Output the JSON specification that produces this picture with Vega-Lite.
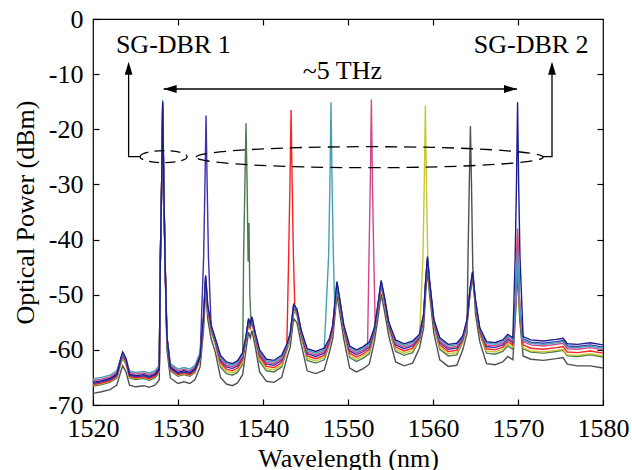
{
"$schema": "https://vega.github.io/schema/vega-lite/v6.json",
"width": 510, "height": 386,
"autosize": {"type": "none"},
"padding": {"left": 93, "top": 19, "right": 29, "bottom": 65},
"background": "white",
"config": {
 "view": {"stroke": "black", "strokeWidth": 1.2},
 "font": "Liberation Serif",
 "axis": {"labelFont": "Liberation Serif", "labelFontSize": 26, "labelColor": "black", "titleFont": "Liberation Serif", "titleFontSize": 26, "titleFontWeight": "normal", "titleColor": "black", "tickColor": "black", "domainColor": "black", "domainWidth": 1.2, "tickWidth": 1.2, "grid": false, "labelFlush": false, "labelOverlap": false}
},
"resolve": {"axis": {"x": "independent", "y": "independent"}},
"layer": [
{
 "data": {"values": [
{"s":"g","w":1520.0,"p":-67.9},{"s":"g","w":1521.0,"p":-67.6},{"s":"g","w":1522.0,"p":-67.2},{"s":"g","w":1522.8,"p":-66.4},{"s":"g","w":1523.3,"p":-63.8},{"s":"g","w":1523.5,"p":-62.9},{"s":"g","w":1523.7,"p":-63.5},{"s":"g","w":1523.9,"p":-64.1},{"s":"g","w":1524.3,"p":-66.4},{"s":"g","w":1525.0,"p":-66.7},{"s":"g","w":1526.0,"p":-66.5},{"s":"g","w":1526.6,"p":-66.8},{"s":"g","w":1527.3,"p":-66.4},{"s":"g","w":1527.8,"p":-65.4},{"s":"g","w":1527.92,"p":-45},{"s":"g","w":1528.07,"p":-31},{"s":"g","w":1528.2,"p":-16.5},{"s":"g","w":1528.33,"p":-31},{"s":"g","w":1528.48,"p":-45},{"s":"g","w":1528.7,"p":-60.0},{"s":"g","w":1529.1,"p":-65.1},{"s":"g","w":1530.0,"p":-66.1},{"s":"g","w":1530.7,"p":-65.8},{"s":"g","w":1531.4,"p":-66.1},{"s":"g","w":1532.0,"p":-65.4},{"s":"g","w":1532.6,"p":-63.1},{"s":"g","w":1533.0,"p":-56.5},{"s":"g","w":1533.25,"p":-49.0},{"s":"g","w":1533.5,"p":-54.5},{"s":"g","w":1533.9,"p":-58.0},{"s":"g","w":1534.4,"p":-60.5},{"s":"g","w":1535.0,"p":-65.0},{"s":"g","w":1535.7,"p":-66.2},{"s":"g","w":1536.4,"p":-66.5},{"s":"g","w":1537.0,"p":-66.0},{"s":"g","w":1537.6,"p":-64.5},{"s":"g","w":1538.0,"p":-60.0},{"s":"g","w":1538.3,"p":-56.8},{"s":"g","w":1538.5,"p":-57.8},{"s":"g","w":1538.7,"p":-56.5},{"s":"g","w":1539.1,"p":-59.5},{"s":"g","w":1539.6,"p":-64.0},{"s":"g","w":1540.4,"p":-65.7},{"s":"g","w":1541.3,"p":-65.9},{"s":"g","w":1542.2,"p":-65.0},{"s":"g","w":1542.8,"p":-61.5},{"s":"g","w":1543.2,"p":-59.5},{"s":"g","w":1543.6,"p":-54.3},{"s":"g","w":1544.0,"p":-55.1},{"s":"g","w":1544.5,"p":-59.0},{"s":"g","w":1545.2,"p":-63.8},{"s":"g","w":1546.2,"p":-64.3},{"s":"g","w":1547.2,"p":-63.7},{"s":"g","w":1547.8,"p":-60.5},{"s":"g","w":1548.2,"p":-58.0},{"s":"g","w":1548.7,"p":-50.1},{"s":"g","w":1549.0,"p":-53.0},{"s":"g","w":1549.5,"p":-58.0},{"s":"g","w":1550.2,"p":-63.3},{"s":"g","w":1551.0,"p":-64.0},{"s":"g","w":1551.8,"p":-63.4},{"s":"g","w":1552.5,"p":-62.6},{"s":"g","w":1553.1,"p":-58.5},{"s":"g","w":1553.5,"p":-54.5},{"s":"g","w":1553.9,"p":-49.9},{"s":"g","w":1554.3,"p":-53.0},{"s":"g","w":1554.8,"p":-57.5},{"s":"g","w":1555.6,"p":-62.2},{"s":"g","w":1556.6,"p":-62.9},{"s":"g","w":1557.6,"p":-62.4},{"s":"g","w":1558.4,"p":-59.7},{"s":"g","w":1558.9,"p":-56.0},{"s":"g","w":1559.15,"p":-49.5},{"s":"g","w":1559.35,"p":-45.6},{"s":"g","w":1559.6,"p":-50.0},{"s":"g","w":1560.1,"p":-57.0},{"s":"g","w":1560.8,"p":-61.8},{"s":"g","w":1561.8,"p":-63.0},{"s":"g","w":1562.8,"p":-62.8},{"s":"g","w":1563.5,"p":-60.0},{"s":"g","w":1564.0,"p":-57.0},{"s":"g","w":1564.12,"p":-43},{"s":"g","w":1564.27,"p":-30},{"s":"g","w":1564.4,"p":-19.4},{"s":"g","w":1564.53,"p":-30},{"s":"g","w":1564.68,"p":-45},{"s":"g","w":1565.0,"p":-53.5},{"s":"g","w":1565.5,"p":-58.5},{"s":"g","w":1566.3,"p":-62.5},{"s":"g","w":1567.3,"p":-62.7},{"s":"g","w":1568.2,"p":-62.2},{"s":"g","w":1568.8,"p":-61.2},{"s":"g","w":1569.4,"p":-61.8},{"s":"g","w":1569.75,"p":-52.5},{"s":"g","w":1569.95,"p":-46},{"s":"g","w":1570.2,"p":-54.5},{"s":"g","w":1570.6,"p":-61.1},{"s":"g","w":1571.5,"p":-61.7},{"s":"g","w":1573.0,"p":-61.9},{"s":"g","w":1574.5,"p":-61.6},{"s":"g","w":1575.3,"p":-61.4},{"s":"g","w":1575.8,"p":-62.6},{"s":"g","w":1577.0,"p":-62.9},{"s":"g","w":1578.5,"p":-62.9},{"s":"g","w":1580.0,"p":-63.3},
{"s":"e","w":1520.0,"p":-66.6},{"s":"e","w":1521.0,"p":-66.3},{"s":"e","w":1522.0,"p":-65.9},{"s":"e","w":1522.8,"p":-65.1},{"s":"e","w":1523.3,"p":-62.4},{"s":"e","w":1523.5,"p":-61.5},{"s":"e","w":1523.7,"p":-62.1},{"s":"e","w":1523.9,"p":-62.7},{"s":"e","w":1524.3,"p":-65.1},{"s":"e","w":1525.0,"p":-65.4},{"s":"e","w":1526.0,"p":-65.2},{"s":"e","w":1526.6,"p":-65.5},{"s":"e","w":1527.3,"p":-65.1},{"s":"e","w":1527.8,"p":-64.1},{"s":"e","w":1527.92,"p":-44},{"s":"e","w":1528.07,"p":-30.5},{"s":"e","w":1528.2,"p":-16.2},{"s":"e","w":1528.33,"p":-30.5},{"s":"e","w":1528.48,"p":-44},{"s":"e","w":1528.7,"p":-58.6},{"s":"e","w":1529.1,"p":-63.8},{"s":"e","w":1530.0,"p":-64.8},{"s":"e","w":1530.7,"p":-64.5},{"s":"e","w":1531.4,"p":-64.8},{"s":"e","w":1532.0,"p":-64.1},{"s":"e","w":1532.6,"p":-61.8},{"s":"e","w":1533.0,"p":-55.1},{"s":"e","w":1533.25,"p":-47.6},{"s":"e","w":1533.5,"p":-53.1},{"s":"e","w":1533.9,"p":-56.6},{"s":"e","w":1534.4,"p":-59.1},{"s":"e","w":1535.0,"p":-63.1},{"s":"e","w":1535.7,"p":-64.3},{"s":"e","w":1536.4,"p":-64.6},{"s":"e","w":1537.0,"p":-64.1},{"s":"e","w":1537.6,"p":-62.6},{"s":"e","w":1537.72,"p":-43},{"s":"e","w":1537.87,"p":-30},{"s":"e","w":1538.0,"p":-18.9},{"s":"e","w":1538.13,"p":-30},{"s":"e","w":1538.25,"p":-44},{"s":"e","w":1538.35,"p":-37},{"s":"e","w":1538.45,"p":-50},{"s":"e","w":1538.6,"p":-55.5},{"s":"e","w":1538.75,"p":-55.1},{"s":"e","w":1539.1,"p":-58.1},{"s":"e","w":1539.6,"p":-62.1},{"s":"e","w":1540.4,"p":-63.8},{"s":"e","w":1541.3,"p":-64.0},{"s":"e","w":1542.2,"p":-63.1},{"s":"e","w":1542.8,"p":-60.1},{"s":"e","w":1543.2,"p":-58.1},{"s":"e","w":1543.6,"p":-52.9},{"s":"e","w":1544.0,"p":-53.7},{"s":"e","w":1544.5,"p":-57.6},{"s":"e","w":1545.2,"p":-61.9},{"s":"e","w":1546.2,"p":-62.4},{"s":"e","w":1547.2,"p":-61.8},{"s":"e","w":1547.8,"p":-59.1},{"s":"e","w":1548.2,"p":-56.6},{"s":"e","w":1548.7,"p":-48.7},{"s":"e","w":1549.0,"p":-51.6},{"s":"e","w":1549.5,"p":-56.6},{"s":"e","w":1550.2,"p":-61.4},{"s":"e","w":1551.0,"p":-62.1},{"s":"e","w":1551.8,"p":-61.5},{"s":"e","w":1552.5,"p":-60.7},{"s":"e","w":1553.1,"p":-57.1},{"s":"e","w":1553.5,"p":-53.1},{"s":"e","w":1553.9,"p":-48.5},{"s":"e","w":1554.3,"p":-51.6},{"s":"e","w":1554.8,"p":-56.1},{"s":"e","w":1555.6,"p":-60.3},{"s":"e","w":1556.6,"p":-61.0},{"s":"e","w":1557.6,"p":-60.5},{"s":"e","w":1558.4,"p":-58.3},{"s":"e","w":1558.9,"p":-54.6},{"s":"e","w":1559.15,"p":-48.1},{"s":"e","w":1559.35,"p":-45.0},{"s":"e","w":1559.6,"p":-48.6},{"s":"e","w":1560.1,"p":-55.6},{"s":"e","w":1560.8,"p":-59.9},{"s":"e","w":1561.8,"p":-61.1},{"s":"e","w":1562.8,"p":-60.9},{"s":"e","w":1563.5,"p":-58.6},{"s":"e","w":1564.0,"p":-55.6},{"s":"e","w":1564.35,"p":-50.1},{"s":"e","w":1564.65,"p":-47.0},{"s":"e","w":1565.0,"p":-52.1},{"s":"e","w":1565.5,"p":-57.1},{"s":"e","w":1566.3,"p":-60.6},{"s":"e","w":1567.3,"p":-60.8},{"s":"e","w":1568.2,"p":-60.3},{"s":"e","w":1568.8,"p":-59.3},{"s":"e","w":1569.4,"p":-59.9},{"s":"e","w":1569.75,"p":-51.1},{"s":"e","w":1569.95,"p":-45},{"s":"e","w":1570.2,"p":-53.1},{"s":"e","w":1570.6,"p":-59.8},{"s":"e","w":1571.5,"p":-60.4},{"s":"e","w":1573.0,"p":-60.6},{"s":"e","w":1574.5,"p":-60.3},{"s":"e","w":1575.3,"p":-60.1},{"s":"e","w":1575.8,"p":-61.1},{"s":"e","w":1577.0,"p":-61.2},{"s":"e","w":1578.5,"p":-60.9},{"s":"e","w":1580.0,"p":-61.3},
{"s":"y","w":1520.0,"p":-66.4},{"s":"y","w":1521.0,"p":-66.1},{"s":"y","w":1522.0,"p":-65.7},{"s":"y","w":1522.8,"p":-64.9},{"s":"y","w":1523.3,"p":-62.2},{"s":"y","w":1523.5,"p":-61.3},{"s":"y","w":1523.7,"p":-61.9},{"s":"y","w":1523.9,"p":-62.5},{"s":"y","w":1524.3,"p":-64.9},{"s":"y","w":1525.0,"p":-65.2},{"s":"y","w":1526.0,"p":-65.0},{"s":"y","w":1526.6,"p":-65.3},{"s":"y","w":1527.3,"p":-64.9},{"s":"y","w":1527.8,"p":-63.9},{"s":"y","w":1527.92,"p":-44},{"s":"y","w":1528.07,"p":-30.5},{"s":"y","w":1528.2,"p":-16.0},{"s":"y","w":1528.33,"p":-30.5},{"s":"y","w":1528.48,"p":-44},{"s":"y","w":1528.7,"p":-58.4},{"s":"y","w":1529.1,"p":-63.6},{"s":"y","w":1530.0,"p":-64.6},{"s":"y","w":1530.7,"p":-64.3},{"s":"y","w":1531.4,"p":-64.6},{"s":"y","w":1532.0,"p":-63.9},{"s":"y","w":1532.6,"p":-61.6},{"s":"y","w":1533.0,"p":-54.9},{"s":"y","w":1533.25,"p":-47.2},{"s":"y","w":1533.5,"p":-52.9},{"s":"y","w":1533.9,"p":-56.4},{"s":"y","w":1534.4,"p":-58.9},{"s":"y","w":1535.0,"p":-62.7},{"s":"y","w":1535.7,"p":-63.9},{"s":"y","w":1536.4,"p":-64.2},{"s":"y","w":1537.0,"p":-63.7},{"s":"y","w":1537.6,"p":-62.2},{"s":"y","w":1538.0,"p":-58.4},{"s":"y","w":1538.3,"p":-55.2},{"s":"y","w":1538.5,"p":-56.2},{"s":"y","w":1538.7,"p":-54.9},{"s":"y","w":1539.1,"p":-57.9},{"s":"y","w":1539.6,"p":-61.7},{"s":"y","w":1540.4,"p":-63.4},{"s":"y","w":1541.3,"p":-63.6},{"s":"y","w":1542.2,"p":-62.7},{"s":"y","w":1542.8,"p":-59.9},{"s":"y","w":1543.2,"p":-57.9},{"s":"y","w":1543.6,"p":-52.7},{"s":"y","w":1544.0,"p":-53.5},{"s":"y","w":1544.5,"p":-57.4},{"s":"y","w":1545.2,"p":-61.5},{"s":"y","w":1546.2,"p":-62.0},{"s":"y","w":1547.2,"p":-61.4},{"s":"y","w":1547.8,"p":-58.9},{"s":"y","w":1548.2,"p":-56.4},{"s":"y","w":1548.7,"p":-48.5},{"s":"y","w":1549.0,"p":-51.4},{"s":"y","w":1549.5,"p":-56.4},{"s":"y","w":1550.2,"p":-61.0},{"s":"y","w":1551.0,"p":-61.7},{"s":"y","w":1551.8,"p":-61.1},{"s":"y","w":1552.5,"p":-60.3},{"s":"y","w":1553.1,"p":-56.9},{"s":"y","w":1553.5,"p":-52.9},{"s":"y","w":1553.9,"p":-48.3},{"s":"y","w":1554.3,"p":-51.4},{"s":"y","w":1554.8,"p":-55.9},{"s":"y","w":1555.6,"p":-59.9},{"s":"y","w":1556.6,"p":-60.6},{"s":"y","w":1557.6,"p":-60.1},{"s":"y","w":1558.4,"p":-58.1},{"s":"y","w":1558.82,"p":-43},{"s":"y","w":1558.97,"p":-30},{"s":"y","w":1559.1,"p":-15.7},{"s":"y","w":1559.23,"p":-30},{"s":"y","w":1559.38,"p":-43},{"s":"y","w":1559.6,"p":-48.4},{"s":"y","w":1560.1,"p":-55.4},{"s":"y","w":1560.8,"p":-59.5},{"s":"y","w":1561.8,"p":-60.7},{"s":"y","w":1562.8,"p":-60.5},{"s":"y","w":1563.5,"p":-58.4},{"s":"y","w":1564.0,"p":-55.4},{"s":"y","w":1564.35,"p":-49.9},{"s":"y","w":1564.65,"p":-46.7},{"s":"y","w":1565.0,"p":-51.9},{"s":"y","w":1565.5,"p":-56.9},{"s":"y","w":1566.3,"p":-60.2},{"s":"y","w":1567.3,"p":-60.4},{"s":"y","w":1568.2,"p":-59.9},{"s":"y","w":1568.8,"p":-58.9},{"s":"y","w":1569.4,"p":-59.5},{"s":"y","w":1569.75,"p":-50.9},{"s":"y","w":1569.95,"p":-40},{"s":"y","w":1570.2,"p":-52.9},{"s":"y","w":1570.6,"p":-59.6},{"s":"y","w":1571.5,"p":-60.2},{"s":"y","w":1573.0,"p":-60.4},{"s":"y","w":1574.5,"p":-60.1},{"s":"y","w":1575.3,"p":-59.9},{"s":"y","w":1575.8,"p":-60.9},{"s":"y","w":1577.0,"p":-61.0},{"s":"y","w":1578.5,"p":-60.7},{"s":"y","w":1580.0,"p":-61.1},
{"s":"r","w":1520.0,"p":-66.3},{"s":"r","w":1521.0,"p":-66.0},{"s":"r","w":1522.0,"p":-65.6},{"s":"r","w":1522.8,"p":-64.8},{"s":"r","w":1523.3,"p":-62.0},{"s":"r","w":1523.5,"p":-61.1},{"s":"r","w":1523.7,"p":-61.7},{"s":"r","w":1523.9,"p":-62.3},{"s":"r","w":1524.3,"p":-64.8},{"s":"r","w":1525.0,"p":-65.1},{"s":"r","w":1526.0,"p":-64.9},{"s":"r","w":1526.6,"p":-65.2},{"s":"r","w":1527.3,"p":-64.8},{"s":"r","w":1527.8,"p":-63.8},{"s":"r","w":1527.92,"p":-44},{"s":"r","w":1528.07,"p":-30.5},{"s":"r","w":1528.2,"p":-15.8},{"s":"r","w":1528.33,"p":-30.5},{"s":"r","w":1528.48,"p":-44},{"s":"r","w":1528.7,"p":-58.2},{"s":"r","w":1529.1,"p":-63.5},{"s":"r","w":1530.0,"p":-64.5},{"s":"r","w":1530.7,"p":-64.2},{"s":"r","w":1531.4,"p":-64.5},{"s":"r","w":1532.0,"p":-63.8},{"s":"r","w":1532.6,"p":-61.5},{"s":"r","w":1533.0,"p":-54.7},{"s":"r","w":1533.25,"p":-47.2},{"s":"r","w":1533.5,"p":-52.7},{"s":"r","w":1533.9,"p":-56.2},{"s":"r","w":1534.4,"p":-58.7},{"s":"r","w":1535.0,"p":-62.3},{"s":"r","w":1535.7,"p":-63.5},{"s":"r","w":1536.4,"p":-63.8},{"s":"r","w":1537.0,"p":-63.3},{"s":"r","w":1537.6,"p":-61.8},{"s":"r","w":1538.0,"p":-58.2},{"s":"r","w":1538.3,"p":-55.0},{"s":"r","w":1538.5,"p":-56.0},{"s":"r","w":1538.7,"p":-54.7},{"s":"r","w":1539.1,"p":-57.7},{"s":"r","w":1539.6,"p":-61.3},{"s":"r","w":1540.4,"p":-63.0},{"s":"r","w":1541.3,"p":-63.2},{"s":"r","w":1542.2,"p":-62.3},{"s":"r","w":1542.8,"p":-59.7},{"s":"r","w":1543.02,"p":-43},{"s":"r","w":1543.17,"p":-30},{"s":"r","w":1543.3,"p":-16.5},{"s":"r","w":1543.43,"p":-30},{"s":"r","w":1543.58,"p":-43},{"s":"r","w":1543.75,"p":-52.6},{"s":"r","w":1544.0,"p":-53.3},{"s":"r","w":1544.5,"p":-57.2},{"s":"r","w":1545.2,"p":-61.1},{"s":"r","w":1546.2,"p":-61.6},{"s":"r","w":1547.2,"p":-61.0},{"s":"r","w":1547.8,"p":-58.7},{"s":"r","w":1548.2,"p":-56.2},{"s":"r","w":1548.7,"p":-48.3},{"s":"r","w":1549.0,"p":-51.2},{"s":"r","w":1549.5,"p":-56.2},{"s":"r","w":1550.2,"p":-60.6},{"s":"r","w":1551.0,"p":-61.3},{"s":"r","w":1551.8,"p":-60.7},{"s":"r","w":1552.5,"p":-59.9},{"s":"r","w":1553.1,"p":-56.7},{"s":"r","w":1553.5,"p":-52.7},{"s":"r","w":1553.9,"p":-48.1},{"s":"r","w":1554.3,"p":-51.2},{"s":"r","w":1554.8,"p":-55.7},{"s":"r","w":1555.6,"p":-59.5},{"s":"r","w":1556.6,"p":-60.2},{"s":"r","w":1557.6,"p":-59.7},{"s":"r","w":1558.4,"p":-57.9},{"s":"r","w":1558.9,"p":-54.2},{"s":"r","w":1559.15,"p":-47.7},{"s":"r","w":1559.35,"p":-44.0},{"s":"r","w":1559.6,"p":-48.2},{"s":"r","w":1560.1,"p":-55.2},{"s":"r","w":1560.8,"p":-59.1},{"s":"r","w":1561.8,"p":-60.3},{"s":"r","w":1562.8,"p":-60.1},{"s":"r","w":1563.5,"p":-58.2},{"s":"r","w":1564.0,"p":-55.2},{"s":"r","w":1564.35,"p":-49.7},{"s":"r","w":1564.65,"p":-46.5},{"s":"r","w":1565.0,"p":-51.7},{"s":"r","w":1565.5,"p":-56.7},{"s":"r","w":1566.3,"p":-59.8},{"s":"r","w":1567.3,"p":-60.0},{"s":"r","w":1568.2,"p":-59.5},{"s":"r","w":1568.8,"p":-58.5},{"s":"r","w":1569.4,"p":-59.1},{"s":"r","w":1569.75,"p":-50.7},{"s":"r","w":1569.95,"p":-39},{"s":"r","w":1570.2,"p":-52.7},{"s":"r","w":1570.6,"p":-59.1},{"s":"r","w":1571.5,"p":-59.7},{"s":"r","w":1573.0,"p":-59.9},{"s":"r","w":1574.5,"p":-59.6},{"s":"r","w":1575.3,"p":-59.4},{"s":"r","w":1575.8,"p":-60.4},{"s":"r","w":1577.0,"p":-60.5},{"s":"r","w":1578.5,"p":-60.2},{"s":"r","w":1580.0,"p":-60.6},
{"s":"b","w":1520.0,"p":-66.1},{"s":"b","w":1521.0,"p":-65.8},{"s":"b","w":1522.0,"p":-65.4},{"s":"b","w":1522.8,"p":-64.6},{"s":"b","w":1523.3,"p":-61.8},{"s":"b","w":1523.5,"p":-60.9},{"s":"b","w":1523.7,"p":-61.5},{"s":"b","w":1523.9,"p":-62.1},{"s":"b","w":1524.3,"p":-64.6},{"s":"b","w":1525.0,"p":-64.9},{"s":"b","w":1526.0,"p":-64.7},{"s":"b","w":1526.6,"p":-65.0},{"s":"b","w":1527.3,"p":-64.6},{"s":"b","w":1527.8,"p":-63.6},{"s":"b","w":1527.92,"p":-44},{"s":"b","w":1528.07,"p":-30.5},{"s":"b","w":1528.2,"p":-15.5},{"s":"b","w":1528.33,"p":-30.5},{"s":"b","w":1528.48,"p":-44},{"s":"b","w":1528.7,"p":-58.0},{"s":"b","w":1529.1,"p":-63.3},{"s":"b","w":1530.0,"p":-64.3},{"s":"b","w":1530.7,"p":-64.0},{"s":"b","w":1531.4,"p":-64.3},{"s":"b","w":1532.0,"p":-63.6},{"s":"b","w":1532.6,"p":-61.3},{"s":"b","w":1533.02,"p":-43},{"s":"b","w":1533.17,"p":-30},{"s":"b","w":1533.3,"p":-17.5},{"s":"b","w":1533.43,"p":-30},{"s":"b","w":1533.58,"p":-43},{"s":"b","w":1533.9,"p":-56.0},{"s":"b","w":1534.4,"p":-58.5},{"s":"b","w":1535.0,"p":-61.9},{"s":"b","w":1535.7,"p":-63.1},{"s":"b","w":1536.4,"p":-63.4},{"s":"b","w":1537.0,"p":-62.9},{"s":"b","w":1537.6,"p":-61.4},{"s":"b","w":1538.0,"p":-58.0},{"s":"b","w":1538.3,"p":-54.8},{"s":"b","w":1538.5,"p":-55.8},{"s":"b","w":1538.7,"p":-54.5},{"s":"b","w":1539.1,"p":-57.5},{"s":"b","w":1539.6,"p":-60.9},{"s":"b","w":1540.4,"p":-62.6},{"s":"b","w":1541.3,"p":-62.8},{"s":"b","w":1542.2,"p":-61.9},{"s":"b","w":1542.8,"p":-59.5},{"s":"b","w":1543.2,"p":-57.5},{"s":"b","w":1543.6,"p":-52.3},{"s":"b","w":1544.0,"p":-53.1},{"s":"b","w":1544.5,"p":-57.0},{"s":"b","w":1545.2,"p":-60.7},{"s":"b","w":1546.2,"p":-61.2},{"s":"b","w":1547.2,"p":-60.6},{"s":"b","w":1547.8,"p":-58.5},{"s":"b","w":1548.2,"p":-56.0},{"s":"b","w":1548.7,"p":-48.1},{"s":"b","w":1549.0,"p":-51.0},{"s":"b","w":1549.5,"p":-56.0},{"s":"b","w":1550.2,"p":-60.2},{"s":"b","w":1551.0,"p":-60.9},{"s":"b","w":1551.8,"p":-60.3},{"s":"b","w":1552.5,"p":-59.5},{"s":"b","w":1553.1,"p":-56.5},{"s":"b","w":1553.5,"p":-52.5},{"s":"b","w":1553.9,"p":-47.9},{"s":"b","w":1554.3,"p":-51.0},{"s":"b","w":1554.8,"p":-55.5},{"s":"b","w":1555.6,"p":-59.1},{"s":"b","w":1556.6,"p":-59.8},{"s":"b","w":1557.6,"p":-59.3},{"s":"b","w":1558.4,"p":-57.7},{"s":"b","w":1558.9,"p":-54.0},{"s":"b","w":1559.15,"p":-47.5},{"s":"b","w":1559.35,"p":-43.6},{"s":"b","w":1559.6,"p":-48.0},{"s":"b","w":1560.1,"p":-55.0},{"s":"b","w":1560.8,"p":-58.7},{"s":"b","w":1561.8,"p":-59.9},{"s":"b","w":1562.8,"p":-59.7},{"s":"b","w":1563.5,"p":-58.0},{"s":"b","w":1564.0,"p":-55.0},{"s":"b","w":1564.35,"p":-49.5},{"s":"b","w":1564.65,"p":-46.3},{"s":"b","w":1565.0,"p":-51.5},{"s":"b","w":1565.5,"p":-56.5},{"s":"b","w":1566.3,"p":-59.4},{"s":"b","w":1567.3,"p":-59.6},{"s":"b","w":1568.2,"p":-59.1},{"s":"b","w":1568.8,"p":-58.1},{"s":"b","w":1569.4,"p":-58.7},{"s":"b","w":1569.75,"p":-50.5},{"s":"b","w":1569.95,"p":-41},{"s":"b","w":1570.2,"p":-52.5},{"s":"b","w":1570.6,"p":-58.0},{"s":"b","w":1571.5,"p":-58.6},{"s":"b","w":1573.0,"p":-58.8},{"s":"b","w":1574.5,"p":-58.5},{"s":"b","w":1575.3,"p":-58.3},{"s":"b","w":1575.8,"p":-59.3},{"s":"b","w":1577.0,"p":-59.4},{"s":"b","w":1578.5,"p":-59.1},{"s":"b","w":1580.0,"p":-59.5},
{"s":"m","w":1520.0,"p":-65.6},{"s":"m","w":1521.0,"p":-65.3},{"s":"m","w":1522.0,"p":-64.9},{"s":"m","w":1522.8,"p":-64.1},{"s":"m","w":1523.3,"p":-61.6},{"s":"m","w":1523.5,"p":-60.7},{"s":"m","w":1523.7,"p":-61.3},{"s":"m","w":1523.9,"p":-61.9},{"s":"m","w":1524.3,"p":-64.1},{"s":"m","w":1525.0,"p":-64.4},{"s":"m","w":1526.0,"p":-64.2},{"s":"m","w":1526.6,"p":-64.5},{"s":"m","w":1527.3,"p":-64.1},{"s":"m","w":1527.8,"p":-63.1},{"s":"m","w":1527.92,"p":-44},{"s":"m","w":1528.07,"p":-30.5},{"s":"m","w":1528.2,"p":-15.2},{"s":"m","w":1528.33,"p":-30.5},{"s":"m","w":1528.48,"p":-44},{"s":"m","w":1528.7,"p":-57.8},{"s":"m","w":1529.1,"p":-62.8},{"s":"m","w":1530.0,"p":-63.8},{"s":"m","w":1530.7,"p":-63.5},{"s":"m","w":1531.4,"p":-63.8},{"s":"m","w":1532.0,"p":-63.1},{"s":"m","w":1532.6,"p":-60.8},{"s":"m","w":1533.0,"p":-54.3},{"s":"m","w":1533.25,"p":-46.8},{"s":"m","w":1533.5,"p":-52.3},{"s":"m","w":1533.9,"p":-55.8},{"s":"m","w":1534.4,"p":-58.3},{"s":"m","w":1535.0,"p":-61.6},{"s":"m","w":1535.7,"p":-62.8},{"s":"m","w":1536.4,"p":-63.1},{"s":"m","w":1537.0,"p":-62.6},{"s":"m","w":1537.6,"p":-61.1},{"s":"m","w":1538.0,"p":-57.8},{"s":"m","w":1538.3,"p":-54.6},{"s":"m","w":1538.5,"p":-55.6},{"s":"m","w":1538.7,"p":-54.3},{"s":"m","w":1539.1,"p":-57.3},{"s":"m","w":1539.6,"p":-60.6},{"s":"m","w":1540.4,"p":-62.3},{"s":"m","w":1541.3,"p":-62.5},{"s":"m","w":1542.2,"p":-61.6},{"s":"m","w":1542.8,"p":-59.3},{"s":"m","w":1543.2,"p":-57.3},{"s":"m","w":1543.6,"p":-52.1},{"s":"m","w":1544.0,"p":-52.9},{"s":"m","w":1544.5,"p":-56.8},{"s":"m","w":1545.2,"p":-60.4},{"s":"m","w":1546.2,"p":-60.9},{"s":"m","w":1547.2,"p":-60.3},{"s":"m","w":1547.8,"p":-58.3},{"s":"m","w":1548.2,"p":-55.8},{"s":"m","w":1548.7,"p":-47.9},{"s":"m","w":1549.0,"p":-50.8},{"s":"m","w":1549.5,"p":-55.8},{"s":"m","w":1550.2,"p":-59.9},{"s":"m","w":1551.0,"p":-60.6},{"s":"m","w":1551.8,"p":-60.0},{"s":"m","w":1552.3,"p":-59.4},{"s":"m","w":1552.47,"p":-43},{"s":"m","w":1552.62,"p":-30},{"s":"m","w":1552.75,"p":-14.6},{"s":"m","w":1552.88,"p":-30},{"s":"m","w":1553.03,"p":-43},{"s":"m","w":1553.2,"p":-55.5},{"s":"m","w":1553.5,"p":-52.3},{"s":"m","w":1553.9,"p":-47.7},{"s":"m","w":1554.3,"p":-50.8},{"s":"m","w":1554.8,"p":-55.3},{"s":"m","w":1555.6,"p":-58.8},{"s":"m","w":1556.6,"p":-59.5},{"s":"m","w":1557.6,"p":-59.0},{"s":"m","w":1558.4,"p":-57.5},{"s":"m","w":1558.9,"p":-53.8},{"s":"m","w":1559.15,"p":-47.3},{"s":"m","w":1559.35,"p":-43.5},{"s":"m","w":1559.6,"p":-47.8},{"s":"m","w":1560.1,"p":-54.8},{"s":"m","w":1560.8,"p":-58.4},{"s":"m","w":1561.8,"p":-59.6},{"s":"m","w":1562.8,"p":-59.4},{"s":"m","w":1563.5,"p":-57.8},{"s":"m","w":1564.0,"p":-54.8},{"s":"m","w":1564.35,"p":-49.3},{"s":"m","w":1564.65,"p":-46.1},{"s":"m","w":1565.0,"p":-51.3},{"s":"m","w":1565.5,"p":-56.3},{"s":"m","w":1566.3,"p":-59.1},{"s":"m","w":1567.3,"p":-59.3},{"s":"m","w":1568.2,"p":-58.8},{"s":"m","w":1568.8,"p":-57.8},{"s":"m","w":1569.4,"p":-58.4},{"s":"m","w":1569.75,"p":-50.3},{"s":"m","w":1569.95,"p":-38},{"s":"m","w":1570.2,"p":-52.3},{"s":"m","w":1570.6,"p":-58.5},{"s":"m","w":1571.5,"p":-59.1},{"s":"m","w":1573.0,"p":-59.3},{"s":"m","w":1574.5,"p":-59.0},{"s":"m","w":1575.3,"p":-58.8},{"s":"m","w":1575.8,"p":-59.8},{"s":"m","w":1577.0,"p":-59.9},{"s":"m","w":1578.5,"p":-59.6},{"s":"m","w":1580.0,"p":-60.0},
{"s":"c","w":1520.0,"p":-65.3},{"s":"c","w":1521.0,"p":-65.0},{"s":"c","w":1522.0,"p":-64.6},{"s":"c","w":1522.8,"p":-63.8},{"s":"c","w":1523.3,"p":-61.5},{"s":"c","w":1523.5,"p":-60.6},{"s":"c","w":1523.7,"p":-61.2},{"s":"c","w":1523.9,"p":-61.8},{"s":"c","w":1524.3,"p":-63.8},{"s":"c","w":1525.0,"p":-64.1},{"s":"c","w":1526.0,"p":-63.9},{"s":"c","w":1526.6,"p":-64.2},{"s":"c","w":1527.3,"p":-63.8},{"s":"c","w":1527.8,"p":-62.8},{"s":"c","w":1527.92,"p":-44},{"s":"c","w":1528.07,"p":-30.5},{"s":"c","w":1528.2,"p":-14.7},{"s":"c","w":1528.33,"p":-30.5},{"s":"c","w":1528.48,"p":-44},{"s":"c","w":1528.7,"p":-57.7},{"s":"c","w":1529.1,"p":-62.5},{"s":"c","w":1530.0,"p":-63.5},{"s":"c","w":1530.7,"p":-63.2},{"s":"c","w":1531.4,"p":-63.5},{"s":"c","w":1532.0,"p":-62.8},{"s":"c","w":1532.6,"p":-60.5},{"s":"c","w":1533.0,"p":-54.2},{"s":"c","w":1533.25,"p":-46.7},{"s":"c","w":1533.5,"p":-52.2},{"s":"c","w":1533.9,"p":-55.7},{"s":"c","w":1534.4,"p":-58.2},{"s":"c","w":1535.0,"p":-61.3},{"s":"c","w":1535.7,"p":-62.5},{"s":"c","w":1536.4,"p":-62.8},{"s":"c","w":1537.0,"p":-62.3},{"s":"c","w":1537.6,"p":-60.8},{"s":"c","w":1538.0,"p":-57.7},{"s":"c","w":1538.3,"p":-54.5},{"s":"c","w":1538.5,"p":-55.5},{"s":"c","w":1538.7,"p":-54.2},{"s":"c","w":1539.1,"p":-57.2},{"s":"c","w":1539.6,"p":-60.3},{"s":"c","w":1540.4,"p":-62.0},{"s":"c","w":1541.3,"p":-62.2},{"s":"c","w":1542.2,"p":-61.3},{"s":"c","w":1542.8,"p":-59.2},{"s":"c","w":1543.2,"p":-57.2},{"s":"c","w":1543.6,"p":-52.0},{"s":"c","w":1544.0,"p":-52.8},{"s":"c","w":1544.5,"p":-56.7},{"s":"c","w":1545.2,"p":-60.1},{"s":"c","w":1546.2,"p":-60.6},{"s":"c","w":1547.2,"p":-60.0},{"s":"c","w":1547.72,"p":-43},{"s":"c","w":1547.87,"p":-30},{"s":"c","w":1548.0,"p":-15.1},{"s":"c","w":1548.13,"p":-30},{"s":"c","w":1548.28,"p":-43},{"s":"c","w":1548.45,"p":-53},{"s":"c","w":1548.7,"p":-47.8},{"s":"c","w":1549.0,"p":-50.7},{"s":"c","w":1549.5,"p":-55.7},{"s":"c","w":1550.2,"p":-59.6},{"s":"c","w":1551.0,"p":-60.3},{"s":"c","w":1551.8,"p":-59.7},{"s":"c","w":1552.5,"p":-58.9},{"s":"c","w":1553.1,"p":-56.2},{"s":"c","w":1553.5,"p":-52.2},{"s":"c","w":1553.9,"p":-47.6},{"s":"c","w":1554.3,"p":-50.7},{"s":"c","w":1554.8,"p":-55.2},{"s":"c","w":1555.6,"p":-58.5},{"s":"c","w":1556.6,"p":-59.2},{"s":"c","w":1557.6,"p":-58.7},{"s":"c","w":1558.4,"p":-57.4},{"s":"c","w":1558.9,"p":-53.7},{"s":"c","w":1559.15,"p":-47.2},{"s":"c","w":1559.35,"p":-43.4},{"s":"c","w":1559.6,"p":-47.7},{"s":"c","w":1560.1,"p":-54.7},{"s":"c","w":1560.8,"p":-58.1},{"s":"c","w":1561.8,"p":-59.3},{"s":"c","w":1562.8,"p":-59.1},{"s":"c","w":1563.5,"p":-57.7},{"s":"c","w":1564.0,"p":-54.7},{"s":"c","w":1564.35,"p":-49.2},{"s":"c","w":1564.65,"p":-46.0},{"s":"c","w":1565.0,"p":-51.2},{"s":"c","w":1565.5,"p":-56.2},{"s":"c","w":1566.3,"p":-58.8},{"s":"c","w":1567.3,"p":-59.0},{"s":"c","w":1568.2,"p":-58.5},{"s":"c","w":1568.8,"p":-57.5},{"s":"c","w":1569.4,"p":-58.1},{"s":"c","w":1569.75,"p":-50.2},{"s":"c","w":1569.95,"p":-42},{"s":"c","w":1570.2,"p":-52.2},{"s":"c","w":1570.6,"p":-58.2},{"s":"c","w":1571.5,"p":-58.8},{"s":"c","w":1573.0,"p":-59.0},{"s":"c","w":1574.5,"p":-58.7},{"s":"c","w":1575.3,"p":-58.5},{"s":"c","w":1575.8,"p":-59.5},{"s":"c","w":1577.0,"p":-59.6},{"s":"c","w":1578.5,"p":-59.3},{"s":"c","w":1580.0,"p":-59.7},
{"s":"n","w":1520.0,"p":-65.9},{"s":"n","w":1521.0,"p":-65.6},{"s":"n","w":1522.0,"p":-65.2},{"s":"n","w":1522.8,"p":-64.4},{"s":"n","w":1523.3,"p":-61.3},{"s":"n","w":1523.5,"p":-60.4},{"s":"n","w":1523.7,"p":-61.0},{"s":"n","w":1523.9,"p":-61.6},{"s":"n","w":1524.3,"p":-64.4},{"s":"n","w":1525.0,"p":-64.7},{"s":"n","w":1526.0,"p":-64.5},{"s":"n","w":1526.6,"p":-64.8},{"s":"n","w":1527.3,"p":-64.4},{"s":"n","w":1527.8,"p":-63.4},{"s":"n","w":1527.92,"p":-44},{"s":"n","w":1528.07,"p":-30.5},{"s":"n","w":1528.2,"p":-15.0},{"s":"n","w":1528.33,"p":-30.5},{"s":"n","w":1528.48,"p":-44},{"s":"n","w":1528.7,"p":-57.5},{"s":"n","w":1529.1,"p":-63.1},{"s":"n","w":1530.0,"p":-64.1},{"s":"n","w":1530.7,"p":-63.8},{"s":"n","w":1531.4,"p":-64.1},{"s":"n","w":1532.0,"p":-63.4},{"s":"n","w":1532.6,"p":-61.1},{"s":"n","w":1533.0,"p":-54.0},{"s":"n","w":1533.25,"p":-46.5},{"s":"n","w":1533.5,"p":-52.0},{"s":"n","w":1533.9,"p":-55.5},{"s":"n","w":1534.4,"p":-58.0},{"s":"n","w":1535.0,"p":-61.0},{"s":"n","w":1535.7,"p":-62.2},{"s":"n","w":1536.4,"p":-62.5},{"s":"n","w":1537.0,"p":-62.0},{"s":"n","w":1537.6,"p":-60.5},{"s":"n","w":1538.0,"p":-57.5},{"s":"n","w":1538.3,"p":-54.3},{"s":"n","w":1538.5,"p":-55.3},{"s":"n","w":1538.7,"p":-54.0},{"s":"n","w":1539.1,"p":-57.0},{"s":"n","w":1539.6,"p":-60.0},{"s":"n","w":1540.4,"p":-61.7},{"s":"n","w":1541.3,"p":-61.9},{"s":"n","w":1542.2,"p":-61.0},{"s":"n","w":1542.8,"p":-59.0},{"s":"n","w":1543.2,"p":-57.0},{"s":"n","w":1543.6,"p":-51.8},{"s":"n","w":1544.0,"p":-52.6},{"s":"n","w":1544.5,"p":-56.5},{"s":"n","w":1545.2,"p":-59.8},{"s":"n","w":1546.2,"p":-60.3},{"s":"n","w":1547.2,"p":-59.7},{"s":"n","w":1547.8,"p":-58.0},{"s":"n","w":1548.2,"p":-55.5},{"s":"n","w":1548.7,"p":-47.6},{"s":"n","w":1549.0,"p":-50.5},{"s":"n","w":1549.5,"p":-55.5},{"s":"n","w":1550.2,"p":-59.3},{"s":"n","w":1551.0,"p":-60.0},{"s":"n","w":1551.8,"p":-59.4},{"s":"n","w":1552.5,"p":-58.6},{"s":"n","w":1553.1,"p":-56.0},{"s":"n","w":1553.5,"p":-52.0},{"s":"n","w":1553.9,"p":-47.4},{"s":"n","w":1554.3,"p":-50.5},{"s":"n","w":1554.8,"p":-55.0},{"s":"n","w":1555.6,"p":-58.2},{"s":"n","w":1556.6,"p":-58.9},{"s":"n","w":1557.6,"p":-58.4},{"s":"n","w":1558.4,"p":-57.2},{"s":"n","w":1558.9,"p":-53.5},{"s":"n","w":1559.15,"p":-47.0},{"s":"n","w":1559.35,"p":-43.1},{"s":"n","w":1559.6,"p":-47.5},{"s":"n","w":1560.1,"p":-54.5},{"s":"n","w":1560.8,"p":-57.8},{"s":"n","w":1561.8,"p":-59.0},{"s":"n","w":1562.8,"p":-58.8},{"s":"n","w":1563.5,"p":-57.5},{"s":"n","w":1564.0,"p":-54.5},{"s":"n","w":1564.35,"p":-49.0},{"s":"n","w":1564.65,"p":-45.8},{"s":"n","w":1565.0,"p":-51.0},{"s":"n","w":1565.5,"p":-56.0},{"s":"n","w":1566.3,"p":-58.5},{"s":"n","w":1567.3,"p":-58.7},{"s":"n","w":1568.2,"p":-58.2},{"s":"n","w":1568.8,"p":-57.2},{"s":"n","w":1569.4,"p":-57.8},{"s":"n","w":1569.67,"p":-43},{"s":"n","w":1569.82,"p":-30},{"s":"n","w":1569.95,"p":-15.1},{"s":"n","w":1570.08,"p":-30},{"s":"n","w":1570.23,"p":-43},{"s":"n","w":1570.6,"p":-57.6},{"s":"n","w":1571.5,"p":-58.2},{"s":"n","w":1573.0,"p":-58.4},{"s":"n","w":1574.5,"p":-58.1},{"s":"n","w":1575.3,"p":-57.9},{"s":"n","w":1575.8,"p":-58.9},{"s":"n","w":1577.0,"p":-59.0},{"s":"n","w":1578.5,"p":-58.7},{"s":"n","w":1580.0,"p":-59.1}
 ]},
 "mark": {"type": "line", "strokeWidth": 1.4, "clip": true},
 "encoding": {
  "x": {"field": "w", "type": "quantitative", "scale": {"domain": [1520, 1580], "nice": false, "zero": false},
        "axis": {"orient": "bottom", "values": [1520,1530,1540,1550,1560,1570,1580], "format": "d", "title": "Wavelength (nm)", "tickSize": -6, "labelPadding": 16, "titlePadding": 4, "domain": false}},
  "y": {"field": "p", "type": "quantitative", "scale": {"domain": [-70, 0], "nice": false, "zero": false},
        "axis": {"orient": "left", "values": [-70,-60,-50,-40,-30,-20,-10,0], "title": "Optical Power (dBm)", "tickSize": -6, "labelPadding": 16, "titlePadding": 10, "labelExpr": "'' + datum.value", "domain": false}},
  "color": {"field": "s", "type": "nominal", "legend": null, "sort": null,
            "scale": {"domain": ["g","e","y","r","b","m","c","n"], "range": ["#505050","#4d7a52","#c8c832","#ff2020","#3a30b0","#d2468c","#46a0b4","#1c1c90"]}}
 }
},
{
 "data": {"values": [{"t": "SG-DBR 1", "w": 1529.45, "p": -6.17}, {"t": "SG-DBR 2", "w": 1571.55, "p": -6.2}, {"t": "~5 THz", "w": 1549.33, "p": -10.94}]},
 "mark": {"type": "text", "font": "Liberation Serif", "fontSize": 26, "align": "center", "baseline": "alphabetic", "color": "black"},
 "encoding": {
  "x": {"field": "w", "type": "quantitative", "scale": {"domain": [1520, 1580], "nice": false, "zero": false},
        "axis": {"orient": "top", "labels": false, "title": null, "tickSize": -6, "values": [1530,1540,1550,1560,1570], "domain": false}},
  "y": {"field": "p", "type": "quantitative", "scale": {"domain": [-70, 0], "nice": false, "zero": false},
        "axis": {"orient": "right", "labels": false, "title": null, "tickSize": -6, "values": [-60,-50,-40,-30,-20,-10], "domain": false}},
  "text": {"field": "t", "type": "nominal"}
 }
},
{
 "data": {"values": [{"w": 1528.31, "w2": 1569.88, "p": -12.69}]},
 "mark": {"type": "rule", "color": "black", "strokeWidth": 1.3},
 "encoding": {
  "x": {"field": "w", "type": "quantitative", "scale": {"domain": [1520, 1580], "nice": false, "zero": false}, "axis": null},
  "x2": {"field": "w2"},
  "y": {"field": "p", "type": "quantitative", "scale": {"domain": [-70, 0], "nice": false, "zero": false}, "axis": null}
 }
},
{
 "data": {"values": [
  {"a": "L", "o": 1, "w": 1525.56, "p": -24.97}, {"a": "L", "o": 2, "w": 1524.19, "p": -24.97}, {"a": "L", "o": 3, "w": 1524.19, "p": -9.0},
  {"a": "R", "o": 1, "w": 1572.94, "p": -24.97}, {"a": "R", "o": 2, "w": 1574.0, "p": -24.97}, {"a": "R", "o": 3, "w": 1574.0, "p": -9.0}
 ]},
 "mark": {"type": "line", "color": "black", "strokeWidth": 1.3},
 "encoding": {
  "x": {"field": "w", "type": "quantitative", "scale": {"domain": [1520, 1580], "nice": false, "zero": false}, "axis": null},
  "y": {"field": "p", "type": "quantitative", "scale": {"domain": [-70, 0], "nice": false, "zero": false}, "axis": null},
  "detail": {"field": "a", "type": "nominal"},
  "order": {"field": "o", "type": "quantitative"}
 }
},
{
 "data": {"values": [{"w": 1528.31, "p": -24.97}]},
 "mark": {"type": "point", "filled": false, "color": "black", "opacity": 1, "strokeWidth": 1.3, "strokeDash": [10, 6], "size": 2209,
          "shape": "M -1 0 C -1 -0.1408 -0.5523 -0.255 0 -0.255 C 0.5523 -0.255 1 -0.1408 1 0 C 1 0.1408 0.5523 0.255 0 0.255 C -0.5523 0.255 -1 0.1408 -1 0 Z"},
 "encoding": {
  "x": {"field": "w", "type": "quantitative", "scale": {"domain": [1520, 1580], "nice": false, "zero": false}, "axis": null},
  "y": {"field": "p", "type": "quantitative", "scale": {"domain": [-70, 0], "nice": false, "zero": false}, "axis": null}
 }
},
{
 "data": {"values": [{"w": 1552.54, "p": -25.06}]},
 "mark": {"type": "point", "filled": false, "color": "black", "opacity": 1, "strokeWidth": 1.3, "strokeDash": [12, 7], "size": 120409,
          "shape": "M -1 0 C -1 -0.0334 -0.5523 -0.0605 0 -0.0605 C 0.5523 -0.0605 1 -0.0334 1 0 C 1 0.0334 0.5523 0.0605 0 0.0605 C -0.5523 0.0605 -1 0.0334 -1 0 Z"},
 "encoding": {
  "x": {"field": "w", "type": "quantitative", "scale": {"domain": [1520, 1580], "nice": false, "zero": false}, "axis": null},
  "y": {"field": "p", "type": "quantitative", "scale": {"domain": [-70, 0], "nice": false, "zero": false}, "axis": null}
 }
},
{
 "data": {"values": [
  {"d": "left", "w": 1528.31, "p": -12.69}, {"d": "right", "w": 1569.88, "p": -12.69},
  {"d": "up", "w": 1524.19, "p": -7.74}, {"d": "up", "w": 1574.0, "p": -7.74}
 ]},
 "mark": {"type": "point", "filled": true, "color": "black", "opacity": 1, "size": 169, "strokeWidth": 0},
 "encoding": {
  "x": {"field": "w", "type": "quantitative", "scale": {"domain": [1520, 1580], "nice": false, "zero": false}, "axis": null},
  "y": {"field": "p", "type": "quantitative", "scale": {"domain": [-70, 0], "nice": false, "zero": false}, "axis": null},
  "shape": {"field": "d", "type": "nominal", "legend": null,
            "scale": {"domain": ["left", "right", "up"], "range": ["M 0 0 L 2 -0.6 L 2 0.6 Z", "M 0 0 L -2 -0.6 L -2 0.6 Z", "M 0 0 L -0.6 2 L 0.6 2 Z"]}}
 }
}
]
}
